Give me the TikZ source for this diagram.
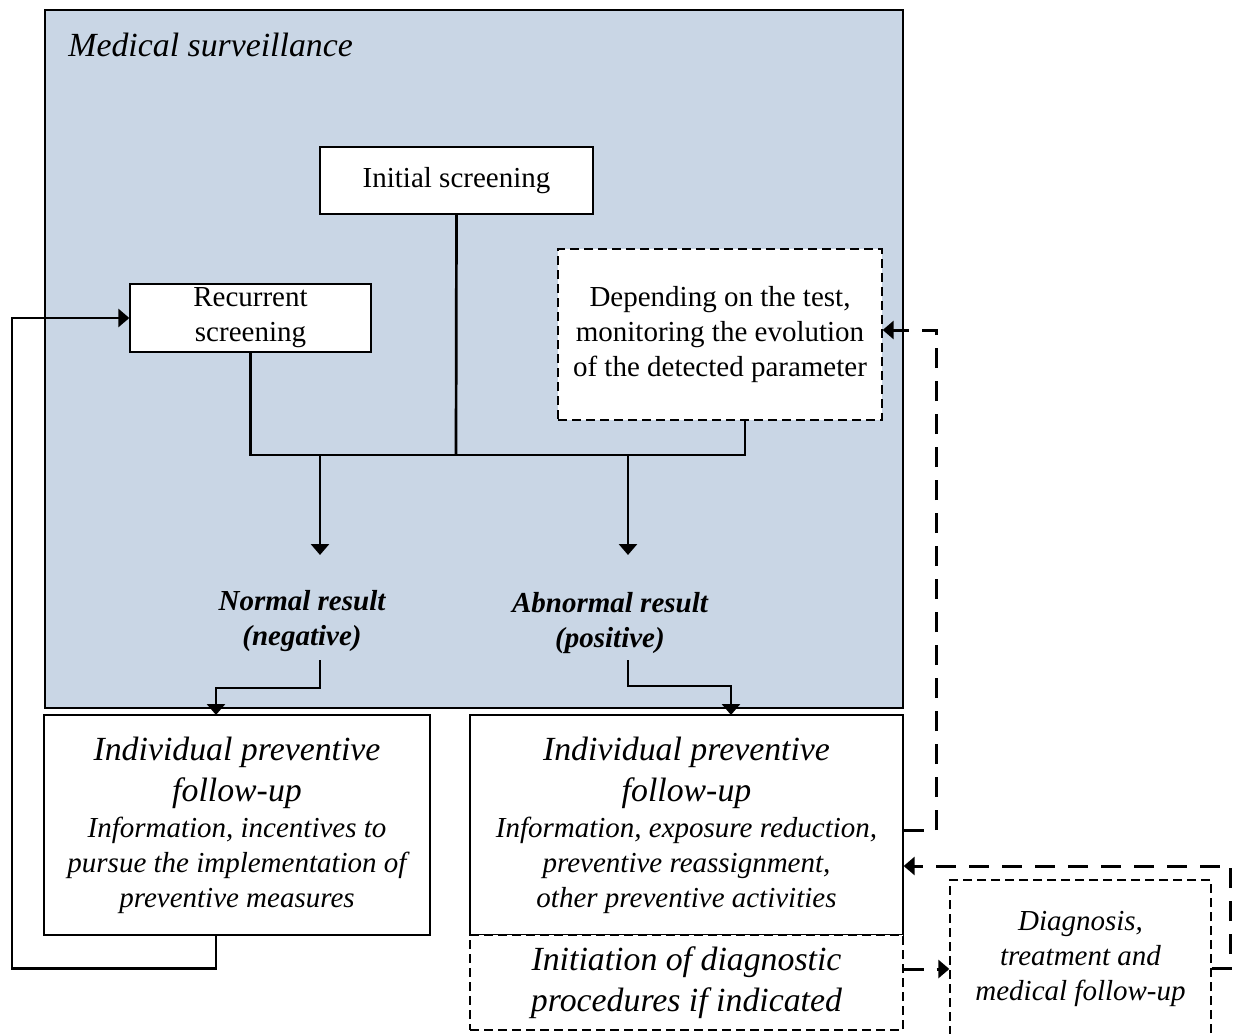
\documentclass[tikz,border=0pt]{standalone}
\usepackage{fontspec}
\setmainfont{Liberation Serif}
\usetikzlibrary{arrows.meta}

\newcommand{\txtnorm}{\fontsize{14.5}{17.5}\selectfont}
\newcommand{\txtbig}{\fontsize{16.9}{20.5}\selectfont}
\definecolor{survblue}{RGB}{201,214,229}

\tikzset{
  box/.style={draw, line width=0.65pt, fill=white, align=center, inner sep=0pt, font=\txtnorm},
  dashbox/.style={box, dash pattern=on 4.5pt off 2.5pt},
  conn/.style={line width=1.35pt},
  arr/.style={conn, -{Triangle[length=5.5pt,width=9pt]}},
  darr/.style={line width=1.5pt, dash pattern=on 10pt off 6.5pt, -{Triangle[length=5.5pt,width=9pt]}},
  result/.style={align=center, font=\txtnorm\bfseries\itshape},
}

\begin{document}
\begin{tikzpicture}[x=0.5pt,y=-0.5pt]
\useasboundingbox (0,0) rectangle (1233,1034);

\node[draw, line width=0.65pt, fill=survblue, minimum width=429pt, minimum height=349pt, inner sep=0pt] (surv) at (474,359) {};
\node[anchor=west, inner sep=0pt, font=\txtbig\itshape] (survtitle) at (68,45) {Medical surveillance};

\node[box, minimum width=136.5pt, minimum height=33.5pt] (init) at (456.5,180.5) {Initial screening};
\node[box, minimum width=120.5pt, minimum height=34pt] (recur) at (250.5,318) {Recurrent\\screening};
\node[dashbox, minimum width=162pt, minimum height=85.5pt] (depend) at (720,334.5)
  {Depending on the test,\\monitoring the evolution\\of the detected parameter};

\node[result] (neg) at (302,621) {Normal result\\(negative)};
\node[result] (pos) at (610,623) {Abnormal result\\(positive)};

\node[box, font=\txtnorm\itshape, minimum width=193pt, minimum height=110pt] (lbox) at (237,825)
  {{\txtbig Individual preventive}\\[3pt]{\txtbig follow-up}\\[0.5pt]Information, incentives to\\pursue the implementation of\\preventive measures};
\node[box, font=\txtnorm\itshape, minimum width=216.5pt, minimum height=110pt] (rbox) at (686.5,825)
  {{\txtbig Individual preventive}\\[3pt]{\txtbig follow-up}\\[0.5pt]Information, exposure reduction,\\preventive reassignment,\\other preventive activities};
\node[dashbox, font=\txtbig\itshape, minimum width=216.5pt, minimum height=47.5pt] (initn) at (686.5,982.5)
  {Initiation of diagnostic\\procedures if indicated};
\node[dashbox, font=\txtnorm\itshape, minimum width=130.5pt, minimum height=79pt] (diag) at (1080.5,959)
  {Diagnosis,\\treatment and\\medical follow-up};

\coordinate (bus) at (456,455);
\coordinate (depout) at (745,420);
\coordinate (negtip) at (320,555);
\coordinate (postip) at (628,555);
\coordinate (negout) at (320,660);
\coordinate (posout) at (628,660);
\coordinate (lin) at (216,715);
\coordinate (rin) at (731,715);
\coordinate (loopL) at (12,318);

\draw[conn] (recur.south) |- (bus) -| (depout);
\draw[conn] (init.south) -- (bus);
\draw[arr] (negtip |- bus) -- (negtip);
\draw[arr] (postip |- bus) -- (postip);
\draw[arr] (negout) -- ++(0,28) -| (lin);
\draw[arr] (posout) -- ++(0,26) -| (rin);
\draw[arr] (lin |- lbox.south) -- ++(0,33) -| (loopL) -- (recur.west);

\draw[darr] ([yshift=-2.5pt]rbox.east) -- ++(33,0) |- ([yshift=2.25pt]depend.east);
\draw[darr] ([yshift=6.75pt]initn.east) -- ([yshift=-5pt]diag.west);
\draw[darr] ([yshift=-4.5pt]diag.east) -- ++(19,0) |- ([yshift=-20.5pt]rbox.east);
\end{tikzpicture}
\end{document}
